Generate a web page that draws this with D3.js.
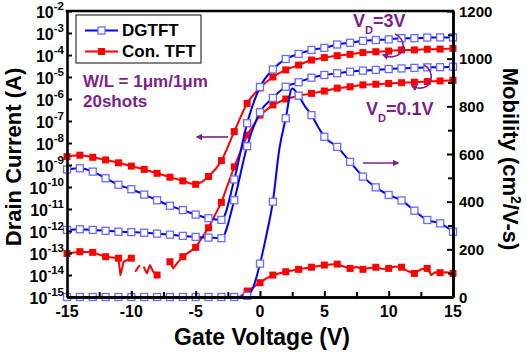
<!DOCTYPE html>
<html><head><meta charset="utf-8">
<script src="https://d3js.org/d3.v7.min.js"></script>
<style>
body{margin:0;background:#fff}
svg text{font-family:"Liberation Sans",Arial,sans-serif;font-weight:bold;fill:#000}
</style></head>
<body><svg id="c" width="526" height="356"></svg>
<script>
// ---------------- data ----------------
const gateV = [-15,-14,-13,-12,-11,-10,-9,-8,-7,-6,-5,-4,-3,-2,-1,0,1,2,3,4,5,6,7,8,9,10,11,12,13,14,15];
// DGTFT, VD = 3 V (drain current, A)
const dgtft3VId = [6.3e-10,7.1e-10,5.0e-10,2.5e-10,1.26e-10,7.9e-11,4.5e-11,2.5e-11,1.4e-11,8.9e-12,5.6e-12,3.8e-12,3.2e-12,2.2e-10,7.9e-8,3.5e-6,2.2e-5,6.6e-5,1.12e-4,1.7e-4,2.1e-4,3.0e-4,3.6e-4,4.4e-4,4.8e-4,5.1e-4,5.8e-4,5.8e-4,6.2e-4,6.3e-4,6.3e-4];
// DGTFT, VD = 0.1 V
const dgtft01VId = [1.12e-12,1.2e-12,1.12e-12,1.02e-12,9.3e-13,8.9e-13,8.3e-13,7.6e-13,6.8e-13,6.0e-13,5.4e-13,5.0e-13,4.7e-13,2.5e-11,7.1e-9,2.5e-7,1.12e-6,3.6e-6,5.8e-6,9.3e-6,1.23e-5,1.48e-5,1.74e-5,1.95e-5,2.1e-5,2.3e-5,2.45e-5,2.6e-5,2.75e-5,2.8e-5,2.95e-5];
// Con. TFT, VD = 3 V
const con3VId = [2.4e-9,2.8e-9,2.24e-9,1.7e-9,1.26e-9,8.9e-10,6.3e-10,4.2e-10,2.8e-10,1.9e-10,1.32e-10,3.0e-10,1.58e-9,3.3e-8,6.3e-7,3.2e-6,1.0e-5,2.1e-5,3.5e-5,5.9e-5,7.6e-5,9.3e-5,1.07e-4,1.29e-4,1.41e-4,1.51e-4,1.7e-4,1.7e-4,1.82e-4,1.86e-4,2.0e-4];
// Con. TFT, VD = 0.1 V (noisy off-state, gaps = not measurable)
const con01VVg = [-15,-14,-13,-12,-11.5,-11,-10.85,-10.6,-10,-9.8,-9.7,-9.35,-9.2,-9.05,-8.8,-8.55,-8.3,-8,-7.6,-7,-6.75,-6.45,-6,-5,-4,-3,-2,-1,0,1,2,3,4,5,6,7,8,9,10,11,12,13,14,15];
const con01VId = [9.5e-14,1.15e-13,1.07e-13,6.8e-14,6.3e-14,5.8e-14,1.0e-14,4.0e-14,5.8e-14,null,1.4e-14,2.8e-14,null,2.4e-14,1.2e-14,2.8e-14,1.4e-14,1.0e-14,null,4.0e-14,2.0e-14,3.4e-14,6.8e-14,1.8e-13,1.4e-12,2.0e-11,8.3e-10,2.3e-8,1.86e-7,5.4e-7,1.0e-6,1.4e-6,1.8e-6,2.3e-6,3.1e-6,3.6e-6,4.4e-6,4.7e-6,5.1e-6,5.5e-6,5.8e-6,6.2e-6,6.6e-6,7.1e-6];
// Mobility (cm2/V-s)
const dgtftMuVg = [-15,-14,-13,-12,-11,-10,-9,-8,-7,-6,-5,-4,-3,-2,-1,-0.5,0,0.5,1,1.5,2,2.5,3,3.5,4,4.5,5,6,7,8,9,10,11,12,13,14,15];
const dgtftMu = [0,0,0,0,0,0,0,0,0,0,0,0,0,0,5,45,140,260,400,620,750,875,845,800,763,715,672,630,567,505,460,428,405,362,323,309,274];
const conMuVg = [-1.5,-1,-0.5,0,0.5,1,2,3,4,5,6,6.5,7,7.5,8,8.5,9,9.5,10,10.5,11,11.5,12,12.5,13,13.3,13.6,14,14.5,15];
const conMu = [3,25,42,60,78,92,106,116,125,134,138,128,120,126,116,122,125,118,120,128,125,108,99,116,120,92,104,102,104,99];

const xTicks = [-15,-10,-5,0,5,10,15];
const xMinor = [-12.5,-7.5,-2.5,2.5,7.5,12.5];
const yLeftExp = [-15,-14,-13,-12,-11,-10,-9,-8,-7,-6,-5,-4,-3,-2];
const yRightTicks = [0,200,400,600,800,1000,1200];
const yRightMinor = [100,300,500,700,900,1100];
const legendNames = ["DGTFT","Con. TFT"];

// ---------------- chart ----------------
const BLUE = "#0000ff", BLUE_MK = "#6a6aff", RED = "#ff0000", PURPLE = "#7d1f8c";
const svg = d3.select("#c");
const L = 67, R = 453, T = 11, B = 297;
const x = d3.scaleLinear().domain([-15,15]).range([L,R]);
const yL = d3.scaleLog().domain([1e-15,1e-2]).range([B,T]);
const yR = d3.scaleLinear().domain([0,1200]).range([B,T]);

const series = [
  {xs:gateV, ys:con3VId, sc:yL, c:RED, filled:true, curve:d3.curveMonotoneX},
  {xs:con01VVg, ys:con01VId, sc:yL, c:RED, filled:true, curve:d3.curveLinear},
  {xs:conMuVg, ys:conMu, sc:yR, c:RED, filled:true, curve:d3.curveLinear},
  {xs:gateV, ys:dgtft3VId, sc:yL, c:BLUE, filled:false, curve:d3.curveMonotoneX},
  {xs:gateV, ys:dgtft01VId, sc:yL, c:BLUE, filled:false, curve:d3.curveMonotoneX},
  {xs:dgtftMuVg, ys:dgtftMu, sc:yR, c:BLUE, filled:false, curve:d3.curveMonotoneX},
];

const MS = 7;
series.forEach(s => {
  const idx = d3.range(s.xs.length);
  const line = d3.line()
    .defined(i => s.ys[i] != null)
    .x(i => x(s.xs[i])).y(i => s.sc(s.ys[i])).curve(s.curve);
  svg.append("path").attr("d", line(idx)).attr("fill","none")
    .attr("stroke", s.c).attr("stroke-width", 2).attr("stroke-linejoin","round");
  const pts = idx.filter(i => s.ys[i] != null && Number.isInteger(s.xs[i]));
  svg.append("g").selectAll("rect").data(pts).join("rect")
    .attr("x", i => x(s.xs[i]) - MS/2).attr("y", i => s.sc(s.ys[i]) - MS/2)
    .attr("width", MS).attr("height", MS)
    .attr("fill", s.filled ? s.c : "#fff")
    .attr("stroke", s.filled ? "none" : BLUE_MK).attr("stroke-width", 1.3);
});

// axes
function styleAxis(g){
  g.select(".domain").attr("stroke","#000").attr("stroke-width",2.6);
  g.selectAll(".tick line").attr("stroke","#000").attr("stroke-width",2);
  g.selectAll(".tick text").remove();
}
svg.append("g").attr("transform",`translate(0,${B})`)
  .call(d3.axisBottom(x).tickValues(xTicks).tickSize(-6).tickSizeOuter(0)).call(styleAxis);
svg.append("g").attr("transform",`translate(0,${B})`)
  .call(d3.axisBottom(x).tickValues(xMinor).tickSize(-5).tickSizeOuter(0)).call(styleAxis);
svg.append("g").attr("transform",`translate(${L},0)`)
  .call(d3.axisLeft(yL).tickValues(yLeftExp.map(e => Math.pow(10,e))).tickSize(-5).tickSizeOuter(0)).call(styleAxis);
svg.append("g").attr("transform",`translate(${R},0)`)
  .call(d3.axisRight(yR).tickValues(yRightTicks).tickSize(-6).tickSizeOuter(0)).call(styleAxis);
svg.append("g").attr("transform",`translate(${R},0)`)
  .call(d3.axisRight(yR).tickValues(yRightMinor).tickSize(-5).tickSizeOuter(0)).call(styleAxis);
svg.append("line").attr("x1",L-1.3).attr("x2",R+1.3).attr("y1",T).attr("y2",T)
  .attr("stroke","#000").attr("stroke-width",2.6);

// tick labels
svg.append("g").selectAll("text").data(xTicks).join("text")
  .attr("x", d => x(d)).attr("y", 317).attr("text-anchor","middle")
  .attr("font-size",16).text(d => d);
const yl = svg.append("g").selectAll("text").data(yLeftExp).join("text")
  .attr("x", 64).attr("y", d => yL(Math.pow(10,d)) + 6.5).attr("text-anchor","end").attr("font-size",16);
yl.append("tspan").text("10");
yl.append("tspan").attr("font-size",11.5).attr("dy",-8).text(d => d);
svg.append("g").selectAll("text").data(yRightTicks).join("text")
  .attr("x", 459).attr("y", d => yR(d) + 5.5).attr("font-size",15).text(d => d);

// axis titles
svg.append("text").attr("transform","translate(21,157) rotate(-90)").attr("text-anchor","middle")
  .attr("font-size",22).text("Drain Current (A)");
svg.append("text").attr("x",262).attr("y",345).attr("text-anchor","middle")
  .attr("font-size",23).text("Gate Voltage (V)");
const mt = svg.append("text").attr("transform","translate(503,159) rotate(90)").attr("text-anchor","middle")
  .attr("font-size",22);
mt.append("tspan").text("Mobility (cm");
mt.append("tspan").attr("font-size",14).attr("dy",-8).text("2");
mt.append("tspan").attr("dy",8).text("/V-s)");

// legend
svg.append("rect").attr("x",76).attr("y",15).attr("width",125).attr("height",48)
  .attr("fill","#fff").attr("stroke","#333").attr("stroke-width",1.2);
legendNames.forEach((n,i) => {
  const yy = 30.5 + i*21, blue = i === 0;
  svg.append("line").attr("x1",85).attr("x2",118).attr("y1",yy).attr("y2",yy)
    .attr("stroke", blue ? BLUE : RED).attr("stroke-width",2);
  svg.append("rect").attr("x",101.5-MS/2).attr("y",yy-MS/2).attr("width",MS).attr("height",MS)
    .attr("fill", blue ? "#fff" : RED).attr("stroke", blue ? BLUE_MK : "none").attr("stroke-width",1.3);
  svg.append("text").attr("x",122).attr("y",yy+5.5).attr("font-size",17).text(n);
});

// annotations
svg.append("text").attr("x",83).attr("y",87).attr("font-size",17).style("fill",PURPLE).text("W/L = 1\u03bcm/1\u03bcm");
svg.append("text").attr("x",83).attr("y",107).attr("font-size",17).style("fill",PURPLE).text("20shots");
const v3 = svg.append("text").attr("x",353).attr("y",27).attr("font-size",18).style("fill",PURPLE);
v3.append("tspan").text("V");
v3.append("tspan").attr("font-size",11).attr("dy",7).text("D");
v3.append("tspan").attr("dy",-7).text("=3V");
const v01 = svg.append("text").attr("x",366).attr("y",115).attr("font-size",18).style("fill",PURPLE);
v01.append("tspan").text("V");
v01.append("tspan").attr("font-size",11).attr("dy",7).text("D");
v01.append("tspan").attr("dy",-7).text("=0.1V");

const defs = svg.append("defs");
defs.append("marker").attr("id","ah").attr("viewBox","0 0 10 10").attr("refX",8).attr("refY",5)
  .attr("markerWidth",4).attr("markerHeight",4).attr("orient","auto")
  .append("path").attr("d","M0,0L10,5L0,10z").attr("fill",PURPLE);
function arrow(d){ svg.append("path").attr("d",d).attr("fill","none").attr("stroke",PURPLE)
  .attr("stroke-width",1.6).attr("marker-end","url(#ah)"); }
arrow("M228,137H197");
arrow("M363,163H398");
arrow("M395,34C405,38 408,54 392,57C388,57 386,56 383,55");
arrow("M424,65C435,70 434,90 418,88C416,88 414,87 412,86");
</script></body></html>
